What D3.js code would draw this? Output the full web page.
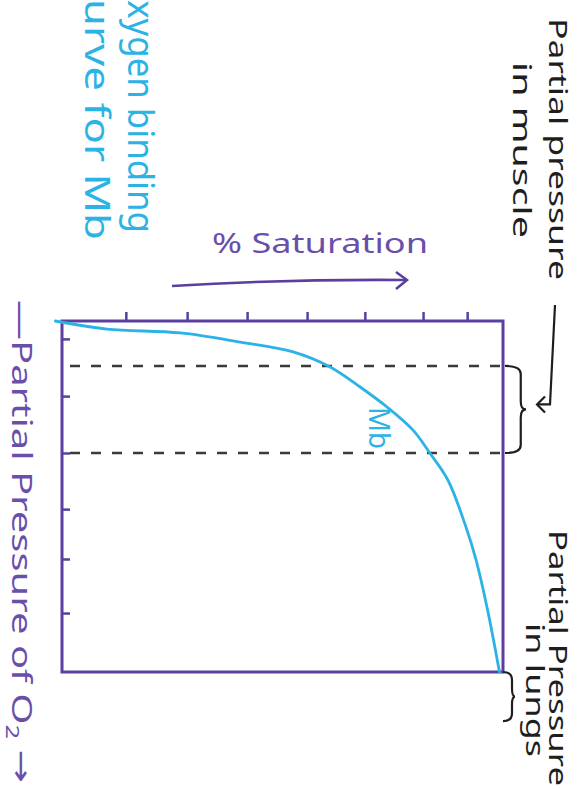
<!DOCTYPE html>
<html>
<head>
<meta charset="utf-8">
<script src="https://cdn.jsdelivr.net/npm/d3@7"></script>
<style>
  body { margin: 0; background: #fff; }
  svg { display: block; }
  text { font-family: "Noto Sans", "DejaVu Sans", sans-serif; }
</style>
</head>
<body>
<div id="chart"></div>
<script>
// Oxygen binding curve for myoglobin, drawn sideways like the sketch
// (pressure runs down the page, saturation runs to the right)

const pressure = [0, 2.3, 3.4, 6.0, 8.8, 13.1, 18.8, 24.5, 31.1, 37.6, 45.3, 58.7, 68.1, 82.3, 100];
const saturation = [-1.5, 10.2, 26.8, 40.4, 52.4, 60.8, 67.6, 73.7, 79.6, 83.4, 87.5, 91.6, 93.9, 96.5, 99.2];
const pressureTicks = [5.1, 21.4, 37.6, 53.6, 67.8, 83.2];
const saturationTicks = [14.7, 28.6, 42.2, 55.8, 68.9, 82.1, 92.1];
const muscleRange = [12.8, 37.6];
const lungsRange = [100, 114];
const titleLines = ["Oxygen binding", "curve for Mb"];
const curveLabel = "Mb";
const xTitle = "\u2014Partial  Pressure of O";
const yTitle = "% Saturation";
const muscleLabel = ["Partial pressure", "in muscle"];
const lungsLabel = ["Partial Pressure", "in lungs"];

const purple = "#5b3f9e",
  purpleText = "#6a4faa",
  blue = "#2bb3e6",
  ink = "#1e1e1e",
  dashInk = "#3a3a3a";

const W = 577, H = 790;
const width = 351, height = 441;

const svg = d3.select("#chart")
  .append("svg")
  .attr("width", W)
  .attr("height", H);

// whole page turned a quarter turn clockwise
const page = svg.append("g")
  .attr("transform", "translate(" + W + ",0) rotate(90)");

const plot = page.append("g")
  .attr("transform", "translate(321,74)");

const x = d3.scaleLinear().domain([0, 100]).range([0, width]);
const y = d3.scaleLinear().domain([0, 100]).range([height, 0]);

// muscle range dashed lines
plot.selectAll(".range-line")
  .data(muscleRange)
  .enter()
  .append("line")
  .attr("x1", (d) => x(d))
  .attr("x2", (d) => x(d))
  .attr("y1", 3)
  .attr("y2", height)
  .attr("stroke", dashInk)
  .attr("stroke-width", 2.5)
  .attr("stroke-dasharray", "10,11");

// frame
plot.append("rect")
  .attr("width", width)
  .attr("height", height)
  .attr("fill", "none")
  .attr("stroke", purple)
  .attr("stroke-width", 3);

// pressure ticks point into the box
const xAxis = plot.append("g")
  .attr("transform", "translate(0," + height + ")")
  .call(d3.axisBottom(x).tickValues(pressureTicks).tickSizeInner(-8).tickSizeOuter(0).tickFormat(""));

// saturation ticks point out of the box
const yAxis = plot.append("g")
  .call(d3.axisLeft(y).tickValues(saturationTicks).tickSizeInner(9).tickSizeOuter(0).tickFormat(""));

[xAxis, yAxis].forEach((a) => {
  a.select(".domain").remove();
  a.selectAll("line").attr("stroke", purple).attr("stroke-width", 2.5);
});

// the binding curve
const points = pressure.map((p, i) => [p, saturation[i]]);
plot.append("path")
  .datum(points)
  .attr("fill", "none")
  .attr("stroke", blue)
  .attr("stroke-width", 2.8)
  .attr("stroke-linecap", "round")
  .attr("d", d3.line().x((d) => x(d[0])).y((d) => y(d[1])).curve(d3.curveCatmullRom.alpha(0.5)));

plot.append("text")
  .attr("x", 86)
  .attr("y", 134)
  .attr("textLength", 42)
  .attr("lengthAdjust", "spacingAndGlyphs")
  .attr("fill", blue)
  .attr("font-size", 29)
  .text(curveLabel);

// curly brace across a pressure range, tip pointing out to the right of the page
function brace(u1, u2, v0, d) {
  const m = (u1 + u2) / 2, vh = v0 - d * 0.75, vt = v0 - d, r = 8;
  return "M" + u1 + "," + v0 +
    " Q" + u1 + "," + vh + " " + (u1 + r) + "," + vh +
    " L" + (m - r) + "," + vh +
    " Q" + m + "," + vh + " " + m + "," + vt +
    " Q" + m + "," + vh + " " + (m + r) + "," + vh +
    " L" + (u2 - r) + "," + vh +
    " Q" + u2 + "," + vh + " " + u2 + "," + v0;
}

plot.append("path")
  .attr("d", brace(x(muscleRange[0]), x(muscleRange[1]), -2, 21))
  .attr("fill", "none")
  .attr("stroke", ink)
  .attr("stroke-width", 2.2);

plot.append("path")
  .attr("d", brace(x(lungsRange[0]), x(lungsRange[1]), 0, 12))
  .attr("fill", "none")
  .attr("stroke", ink)
  .attr("stroke-width", 2.2);

// pointer from the muscle label to its brace
const tipU = x(d3.mean(muscleRange)) - 5;
plot.append("path")
  .attr("d", "M-16,-52 L" + tipU + ",-47 L" + tipU + ",-34")
  .attr("fill", "none")
  .attr("stroke", ink)
  .attr("stroke-width", 2.2);
plot.append("path")
  .attr("d", "M" + (tipU - 8) + ",-42 L" + tipU + ",-34 L" + (tipU + 8) + ",-42")
  .attr("fill", "none")
  .attr("stroke", ink)
  .attr("stroke-width", 2.2);

// texts that run down the page
function sideText(str, u, v, len, size, color) {
  return page.append("text")
    .attr("x", u)
    .attr("y", v)
    .attr("textLength", len)
    .attr("lengthAdjust", "spacingAndGlyphs")
    .attr("font-size", size)
    .attr("fill", color)
    .text(str);
}

sideText(titleLines[0], -27, 449, 260, 36, blue);
sideText(titleLines[1], -22, 492, 262, 34, blue);

const xt = sideText(xTitle, 300, 565, 483, 28, purpleText);
xt.append("tspan").attr("dy", 6).attr("font-size", 18).text("2");
xt.append("tspan").attr("dy", -6).text(" \u2192");

sideText(muscleLabel[0], 18, 28, 262, 26, ink);
sideText(muscleLabel[1], 62, 64, 176, 26, ink);
sideText(lungsLabel[0], 530, 28, 256, 26, ink);
sideText(lungsLabel[1], 623, 51, 134, 26, ink);

// saturation label stays upright, above the frame
svg.append("text")
  .attr("x", 212)
  .attr("y", 253)
  .attr("textLength", 216)
  .attr("lengthAdjust", "spacingAndGlyphs")
  .attr("font-size", 27)
  .attr("fill", purpleText)
  .text(yTitle);

svg.append("path")
  .attr("d", "M172,286 Q290,279 407,280")
  .attr("fill", "none")
  .attr("stroke", purple)
  .attr("stroke-width", 2.5);
svg.append("path")
  .attr("d", "M396,272 L407,280 L396,289")
  .attr("fill", "none")
  .attr("stroke", purple)
  .attr("stroke-width", 2.5);
</script>
</body>
</html>
